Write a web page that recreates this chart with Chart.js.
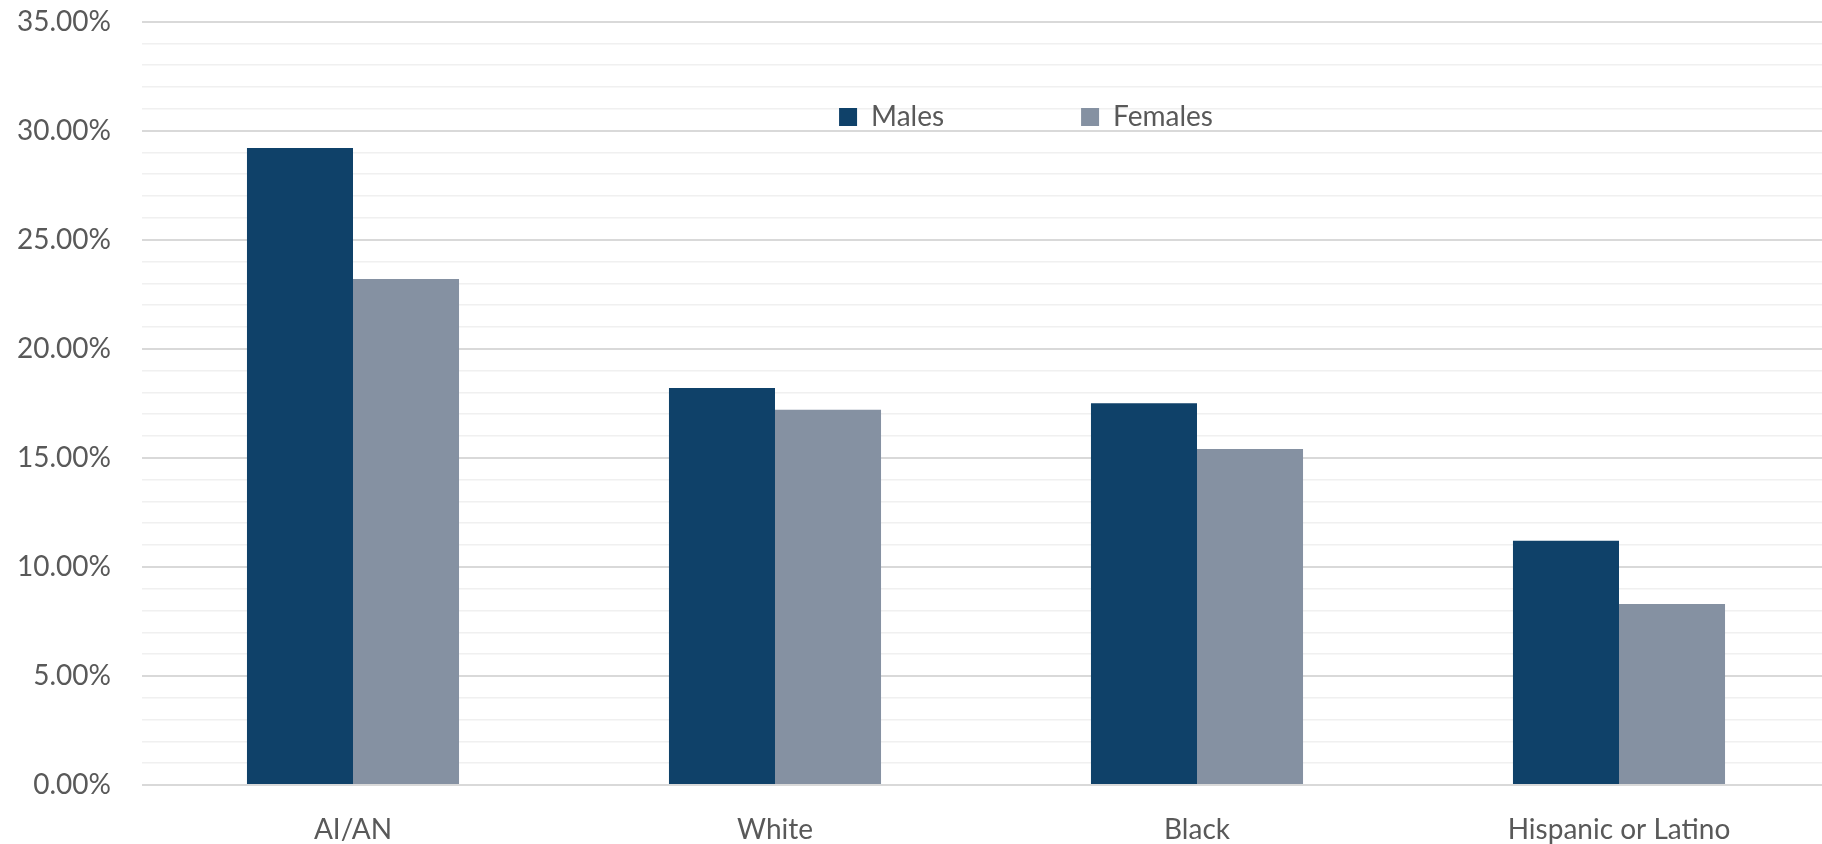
<!DOCTYPE html>
<html>
<head>
<meta charset="utf-8">
<script src="https://cdn.jsdelivr.net/npm/chart.js@4"></script>
<style>
  html, body { margin: 0; padding: 0; background: #ffffff; overflow: hidden; }
  #wrap { width: 1822px; height: 844px; overflow: hidden; }
  canvas { display: block; }
</style>
</head>
<body>
<div id="wrap"><canvas id="c" width="1832" height="844"></canvas></div>
<script>
const categories = ['AI/AN', 'White', 'Black', 'Hispanic or Latino'];
const seriesNames = ['Males', 'Females'];
const males = [29.2, 18.2, 17.5, 11.2];
const females = [23.2, 17.2, 15.4, 8.3];
const yMin = 0, yMax = 35, yMinorStep = 1, yMajorStep = 5;

const FONT = 'Lato, "Open Sans", sans-serif';
const LEGEND_BOX_TOP = 108;
const LEGEND_CENTER_X = 1026;

// Legend floats inside the plot: it takes no layout space and is moved after layout.
const legendFloat = {
  id: 'legendFloat',
  beforeLayout(chart) {
    const lg = chart.legend;
    if (lg && !lg._floatPatched) {
      const origFit = lg.fit.bind(lg);
      lg.fit = function () { origFit(); this._fullHeight = this.height; this.height = 0; };
      lg._floatPatched = true;
    }
  },
  afterLayout(chart) {
    const lg = chart.legend;
    if (!lg) return;
    const opts = lg.options.labels;
    const fs = opts.font.size;
    const top = LEGEND_BOX_TOP - opts.padding - Math.max((fs - opts.boxHeight) / 2, 0);
    const h = lg._fullHeight || 0;
    lg.top = top; lg.bottom = top + h; lg.height = h;
    const dx = LEGEND_CENTER_X - (lg.left + lg.right) / 2;
    lg.left += dx; lg.right += dx;
  }
};

new Chart(document.getElementById('c'), {
  type: 'bar',
  data: {
    labels: categories,
    datasets: [
      { label: seriesNames[0], data: males, backgroundColor: '#0f4169', borderWidth: 0 },
      { label: seriesNames[1], data: females, backgroundColor: '#8591a2', borderWidth: 0 }
    ]
  },
  options: {
    responsive: false,
    animation: false,
    devicePixelRatio: 1,
    layout: { padding: { top: 21.5, right: 2, bottom: 0, left: 0 } },
    datasets: { bar: { categoryPercentage: 0.5025, barPercentage: 1.0 } },
    plugins: {
      tooltip: { enabled: false },
      legend: {
        position: 'top',
        align: 'center',
        labels: {
          boxWidth: 18, boxHeight: 18, padding: 137,
          color: '#595959',
          font: { family: FONT, size: 28 }
        }
      }
    },
    scales: {
      x: {
        grid: { display: false },
        border: { display: false },
        ticks: { color: '#595959', font: { family: FONT, size: 28 }, padding: 20, maxRotation: 0, autoSkip: false },
        afterFit(s) { s.height = 59; s.paddingLeft = 0; s.paddingRight = 0; }
      },
      y: {
        min: yMin, max: yMax,
        border: { display: false },
        grid: {
          drawTicks: false,
          color: (ctx) => (ctx.tick && ctx.tick.value % yMajorStep === 0) ? '#d9d9d9' : '#f0f0f0',
          lineWidth: (ctx) => (ctx.tick && ctx.tick.value % yMajorStep === 0) ? 2 : 1.5
        },
        ticks: {
          stepSize: yMinorStep,
          autoSkip: false,
          padding: 31,
          color: '#595959',
          font: { family: FONT, size: 28 },
          callback: (v) => (v % yMajorStep === 0) ? v.toFixed(2) + '%' : ''
        },
        afterFit(s) { s.width = 142; s.paddingTop = 0; s.paddingBottom = 0; }
      }
    }
  },
  plugins: [legendFloat]
});
</script>
</body>
</html>
